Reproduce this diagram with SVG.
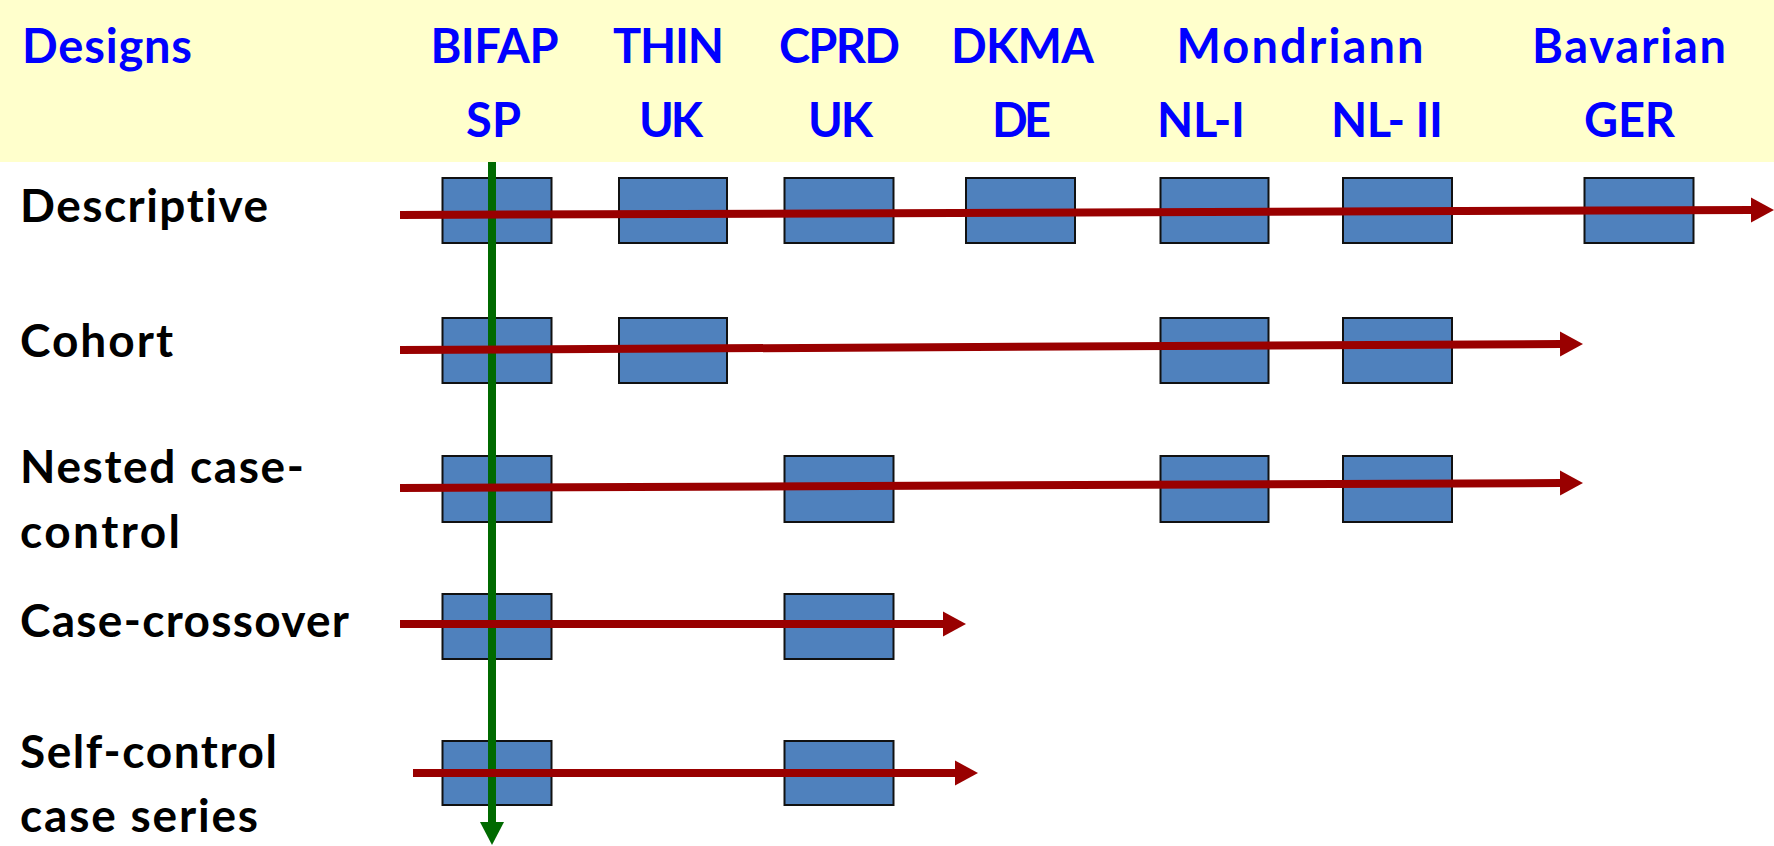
<svg xmlns="http://www.w3.org/2000/svg" width="1774" height="846" viewBox="0 0 1774 846">
<style>
.hd{font-family:Lato,"Open Sans","Liberation Sans",sans-serif;font-weight:bold;font-size:47px;fill:#0000FF;text-anchor:middle;font-variant-ligatures:none}
.lb{font-family:Lato,"Open Sans","Liberation Sans",sans-serif;font-weight:bold;font-size:46px;fill:#000000;font-variant-ligatures:none}
.box{fill:#4F81BD;stroke:#111111;stroke-width:2}
.red{stroke:#990000;stroke-width:8;fill:none;marker-end:url(#ra)}
.grn{stroke:#006A00;stroke-width:8;fill:none;marker-end:url(#ga)}
</style>
<defs>
<marker id="ra" markerUnits="userSpaceOnUse" markerWidth="26" markerHeight="28" viewBox="0 -14 26 28" refX="1" refY="0" orient="auto"><path d="M0,-12.5 L23,0 L0,12.5 Z" fill="#990000"/></marker>
<marker id="ga" markerUnits="userSpaceOnUse" markerWidth="26" markerHeight="28" viewBox="0 -14 26 28" refX="1" refY="0" orient="auto"><path d="M0,-12 L23,0 L0,12 Z" fill="#006A00"/></marker>
</defs>
<rect x="0" y="0" width="1774" height="162" fill="#FFFFCC"/>
<g id="header">
<text x="22" y="63" class="hd" style="text-anchor:start" textLength="170">Designs</text>
<text x="494.5" y="63" class="hd" textLength="128">BIFAP</text>
<text x="493.5" y="137" class="hd" textLength="55">SP</text>
<text x="668.5" y="63" class="hd" textLength="111">THIN</text>
<text x="671" y="137" class="hd" textLength="64">UK</text>
<text x="839.5" y="63" class="hd" textLength="121">CPRD</text>
<text x="840.5" y="137" class="hd" textLength="65">UK</text>
<text x="1022.5" y="63" class="hd" textLength="143">DKMA</text>
<text x="1021.5" y="137" class="hd" textLength="59">DE</text>
<text x="1300" y="63" class="hd" textLength="247">Mondriann</text>
<text x="1201" y="137" class="hd" textLength="88">NL-I</text>
<text x="1387" y="137" class="hd" textLength="112">NL- II</text>
<text x="1629" y="63" class="hd" textLength="194">Bavarian</text>
<text x="1629.5" y="137" class="hd" textLength="91">GER</text>
</g>
<g id="labels">
<text x="20" y="222" class="lb" textLength="248">Descriptive</text>
<text x="20" y="357" class="lb" textLength="153">Cohort</text>
<text x="20" y="483" class="lb" textLength="284">Nested case-</text>
<text x="20" y="548" class="lb" textLength="160">control</text>
<text x="20" y="637" class="lb" textLength="329">Case-crossover</text>
<text x="20" y="768" class="lb" textLength="257">Self-control</text>
<text x="20" y="832" class="lb" textLength="238">case series</text>
</g>
<g id="row-descriptive">
<rect class="box" x="442.5" y="178" width="109" height="65"/>
<rect class="box" x="619" y="178" width="108" height="65"/>
<rect class="box" x="784.5" y="178" width="109" height="65"/>
<rect class="box" x="966" y="178" width="109" height="65"/>
<rect class="box" x="1160.5" y="178" width="108" height="65"/>
<rect class="box" x="1343" y="178" width="109" height="65"/>
<rect class="box" x="1584.5" y="178" width="109" height="65"/>
</g>
<g id="row-cohort">
<rect class="box" x="442.5" y="318" width="109" height="65"/>
<rect class="box" x="619" y="318" width="108" height="65"/>
<rect class="box" x="1160.5" y="318" width="108" height="65"/>
<rect class="box" x="1343" y="318" width="109" height="65"/>
</g>
<g id="row-nested">
<rect class="box" x="442.5" y="456" width="109" height="66"/>
<rect class="box" x="784.5" y="456" width="109" height="66"/>
<rect class="box" x="1160.5" y="456" width="108" height="66"/>
<rect class="box" x="1343" y="456" width="109" height="66"/>
</g>
<g id="row-crossover">
<rect class="box" x="442.5" y="594" width="109" height="65"/>
<rect class="box" x="784.5" y="594" width="109" height="65"/>
</g>
<g id="row-sccs">
<rect class="box" x="442.5" y="741" width="109" height="64"/>
<rect class="box" x="784.5" y="741" width="109" height="64"/>
</g>
<g id="connectors">
<line class="grn" x1="492" y1="162" x2="492" y2="823"/>
<line class="red" x1="400" y1="215" x2="1752" y2="210"/>
<line class="red" x1="400" y1="350" x2="1561" y2="344"/>
<line class="red" x1="400" y1="488" x2="1561" y2="483"/>
<line class="red" x1="400" y1="624" x2="944" y2="624"/>
<line class="red" x1="413" y1="773" x2="956" y2="773"/>
</g>
</svg>
